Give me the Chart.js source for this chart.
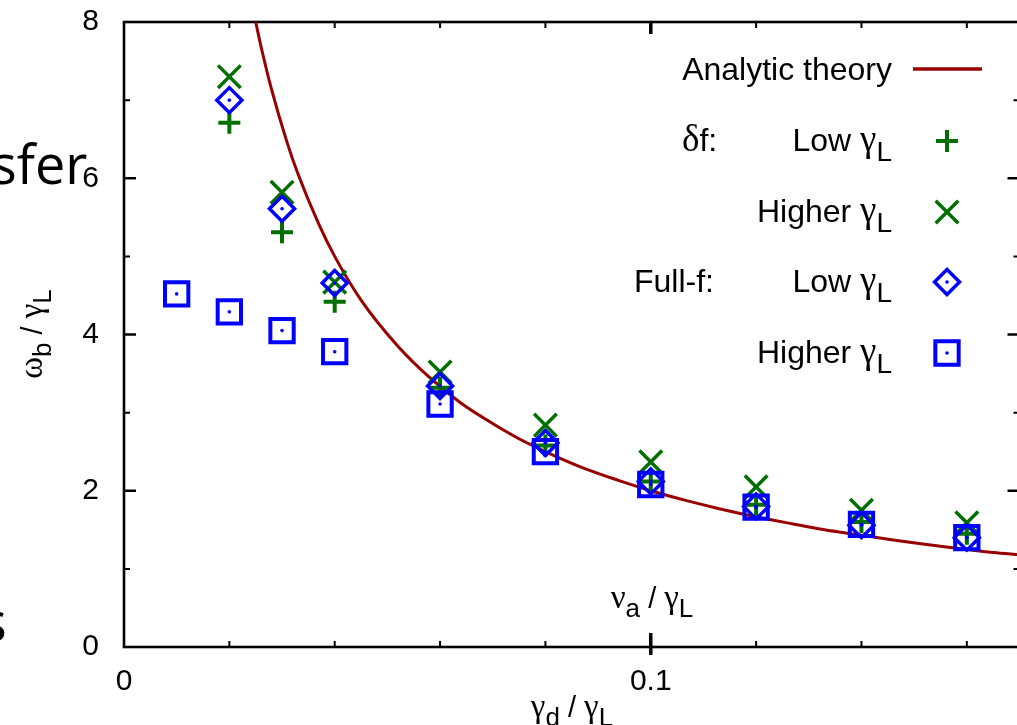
<!DOCTYPE html>
<html>
<head>
<meta charset="utf-8">
<script src="https://cdn.jsdelivr.net/npm/chart.js@4.4.1/dist/chart.umd.min.js"></script>
<style>
  html, body { margin: 0; padding: 0; background: #fff; overflow: hidden; }
  #wrap { position: relative; width: 1017px; height: 725px; overflow: hidden; }
  #plot { position: absolute; left: 0; top: 0; }
  .slide { position: absolute; font-family: 'Open Sans', sans-serif; font-size: 54px; color: #000; line-height: 1; }
</style>
</head>
<body>
<div id="wrap">
  <canvas id="plot" width="1040" height="725" style="width:1040px;height:725px"></canvas>
  <div class="slide" style="left:-9px; top:136px;">sfer</div>
  <div class="slide" style="left:-19px; top:593px;">s</div>
</div>
<script>
// analytic theory curve
const theoryX = [0.025, 0.026, 0.028, 0.031, 0.033, 0.037, 0.040, 0.045, 0.052, 0.058, 0.064, 0.071, 0.076, 0.081,
                 0.088, 0.094, 0.100, 0.107, 0.113, 0.119, 0.127, 0.133, 0.139, 0.146, 0.152, 0.158, 0.165, 0.170];
const theoryY = [8.00, 7.69, 7.14, 6.45, 6.06, 5.41, 5.00, 4.44, 3.85, 3.45, 3.12, 2.82, 2.63, 2.47,
                 2.27, 2.13, 2.00, 1.87, 1.77, 1.68, 1.575, 1.50, 1.44, 1.37, 1.315, 1.265, 1.21, 1.18];

// simulations
const xSim = [0.02, 0.03, 0.04, 0.06, 0.08, 0.10, 0.12, 0.14, 0.16];
const deltaLow = [6.71, 5.31, 4.42, 3.32, 2.58, 2.12, 1.82, 1.60, 1.45];
const deltaHigh = [7.30, 5.82, 4.67, 3.52, 2.84, 2.37, 2.05, 1.75, 1.59];
const fullLow = [7.00, 5.61, 4.66, 3.34, 2.61, 2.12, 1.80, 1.56, 1.40];
const xFullHigh = [0.01, 0.02, 0.03, 0.04, 0.06, 0.08, 0.10, 0.12, 0.14, 0.16];
const fullHigh = [4.52, 4.29, 4.05, 3.78, 3.11, 2.50, 2.08, 1.79, 1.57, 1.40];

// axis ticks
const xMajorTicks = [0.1];
const xMinorTicks = [0.02, 0.04, 0.06, 0.08, 0.12, 0.14, 0.16];
const yMajorTicks = [2, 4, 6];
const yMinorTicks = [1, 3, 5, 7];

const RED = '#990000';
const GREEN = '#006f00';
const BLUE = '#0000ff';
const FONT = "'Liberation Sans', Arial, sans-serif";
const GREEK = "'Liberation Serif', serif";

function pts(xs, ys) {
    return xs.map((v, i) => ({ x: v, y: ys[i] }));
}

// text with subscripts: parts = [[text, isSub, isGreek], ...]
function drawRich(ctx, parts, x, y, align, size) {
    const subSize = Math.round(size * 0.88);
    const fontOf = p => (p[1] ? subSize : (p[2] ? Math.round(size * 1.15) : size)) + 'px ' + (p[2] ? GREEK : FONT);
    let w = 0;
    const widths = parts.map(p => {
        ctx.font = fontOf(p);
        const m = ctx.measureText(p[0]).width;
        w += m;
        return m;
    });
    let cx = align === 'right' ? x - w : (align === 'center' ? x - w / 2 : x);
    ctx.textAlign = 'left';
    ctx.textBaseline = 'alphabetic';
    parts.forEach((p, i) => {
        ctx.font = fontOf(p);
        ctx.fillText(p[0], cx, y + (p[1] ? size * 0.3 : 0));
        cx += widths[i];
    });
}

const framePlugin = {
    id: 'frame',
    beforeDatasetsDraw(chart) {
        const { ctx, chartArea: a, scales: { x, y } } = chart;
        ctx.save();
        ctx.strokeStyle = '#000';
        ctx.lineWidth = 2;
        ctx.beginPath();
        xMinorTicks.forEach(v => {
            const px = x.getPixelForValue(v);
            ctx.moveTo(px, a.bottom); ctx.lineTo(px, a.bottom - 6);
            ctx.moveTo(px, a.top); ctx.lineTo(px, a.top + 6);
        });
        yMinorTicks.forEach(v => {
            const py = y.getPixelForValue(v);
            ctx.moveTo(a.left, py); ctx.lineTo(a.left + 6, py);
            ctx.moveTo(a.right, py); ctx.lineTo(a.right - 6, py);
        });
        ctx.stroke();
        ctx.lineWidth = 2.5;
        ctx.beginPath();
        yMajorTicks.forEach(v => {
            const py = y.getPixelForValue(v);
            ctx.moveTo(a.left, py); ctx.lineTo(a.left + 12, py);
            ctx.moveTo(a.right, py); ctx.lineTo(a.right - 12, py);
        });
        ctx.stroke();
        ctx.lineWidth = 3.5;
        ctx.beginPath();
        xMajorTicks.forEach(v => {
            const px = x.getPixelForValue(v);
            ctx.moveTo(px, a.bottom + 8); ctx.lineTo(px, a.bottom - 14);
            ctx.moveTo(px, a.top); ctx.lineTo(px, a.top + 12);
        });
        ctx.stroke();
        ctx.lineWidth = 2.6;
        ctx.strokeRect(a.left, a.top, a.right - a.left, a.bottom - a.top);
        ctx.restore();
    },
    afterDatasetsDraw(chart) {
        const ctx = chart.ctx;
        ctx.save();
        ctx.fillStyle = BLUE;
        [3, 4].forEach(i => {
            chart.getDatasetMeta(i).data.forEach(el => {
                ctx.beginPath();
                ctx.arc(el.x, el.y, 1.8, 0, Math.PI * 2);
                ctx.fill();
            });
        });
        ctx.restore();
    },
    afterDraw(chart) {
        const ctx = chart.ctx;
        const ds = chart.data.datasets;
        ctx.save();
        ctx.fillStyle = '#000';

        // axis titles
        drawRich(ctx, [['γ', 0, 1], ['d', 1], [' / '], ['γ', 0, 1], ['L', 1]], 572, 717, 'center', 29);
        drawRich(ctx, [['ν', 0, 1], ['a', 1], [' / '], ['γ', 0, 1], ['L', 1]], 652, 608, 'center', 29);
        ctx.save();
        ctx.translate(42, 334);
        ctx.rotate(-Math.PI / 2);
        drawRich(ctx, [['ω', 0, 1], ['b', 1], [' / '], ['γ', 0, 1], ['L', 1]], 0, 0, 'center', 29);
        ctx.restore();

        // key
        const tx = 892, mx = 947;
        const rows = [69, 141, 212, 282, 353];
        ctx.fillStyle = '#000';
        drawRich(ctx, [['Analytic theory']], tx, rows[0] + 11, 'right', 32);
        ctx.strokeStyle = RED;
        ctx.lineWidth = 3.5;
        ctx.beginPath();
        ctx.moveTo(913, rows[0]); ctx.lineTo(982, rows[0]);
        ctx.stroke();

        const labels = [
            [['Low '], ['γ', 0, 1], ['L', 1]],
            [['Higher '], ['γ', 0, 1], ['L', 1]],
            [['Low '], ['γ', 0, 1], ['L', 1]],
            [['Higher '], ['γ', 0, 1], ['L', 1]]
        ];
        for (let k = 0; k < 4; k++) {
            const d = ds[k + 1];
            ctx.fillStyle = '#000';
            drawRich(ctx, labels[k], tx, rows[k + 1] + 10, 'right', 32);
            ctx.strokeStyle = d.pointBorderColor;
            ctx.fillStyle = 'rgba(0,0,0,0)';
            ctx.lineWidth = d.pointBorderWidth;
            Chart.helpers.drawPoint(ctx, { pointStyle: d.pointStyle, radius: d.pointRadius, rotation: 0, borderWidth: d.pointBorderWidth }, mx, rows[k + 1]);
            if (k >= 2) {
                ctx.fillStyle = BLUE;
                ctx.beginPath();
                ctx.arc(mx, rows[k + 1], 1.8, 0, Math.PI * 2);
                ctx.fill();
            }
        }
        ctx.fillStyle = '#000';
        drawRich(ctx, [['δ', 0, 1], ['f:']], 682, rows[1] + 10, 'left', 32);
        drawRich(ctx, [['Full-f:']], 634, rows[3] + 10, 'left', 32);
        ctx.restore();
    }
};

new Chart(document.getElementById('plot'), {
    type: 'scatter',
    data: {
        datasets: [{
            type: 'line',
            label: 'Analytic theory',
            data: pts(theoryX, theoryY),
            borderColor: RED,
            borderWidth: 3,
            pointRadius: 0,
            fill: false,
            cubicInterpolationMode: 'monotone',
            order: 5
        }, {
            label: 'δf: Low γL',
            data: pts(xSim, deltaLow),
            pointStyle: 'cross',
            pointRadius: 11,
            pointBorderWidth: 4,
            pointBorderColor: GREEN,
            pointBackgroundColor: 'rgba(0,0,0,0)',
            order: 4
        }, {
            label: 'δf: Higher γL',
            data: pts(xSim, deltaHigh),
            pointStyle: 'crossRot',
            pointRadius: 16,
            pointBorderWidth: 3.5,
            pointBorderColor: GREEN,
            pointBackgroundColor: 'rgba(0,0,0,0)',
            order: 3
        }, {
            label: 'Full-f: Low γL',
            data: pts(xSim, fullLow),
            pointStyle: 'rectRot',
            pointRadius: 12.5,
            pointBorderWidth: 3.5,
            pointBorderColor: BLUE,
            pointBackgroundColor: 'rgba(0,0,0,0)',
            order: 2
        }, {
            label: 'Full-f: Higher γL',
            data: pts(xFullHigh, fullHigh),
            pointStyle: 'rect',
            pointRadius: 16.5,
            pointBorderWidth: 4,
            pointBorderColor: BLUE,
            pointBackgroundColor: 'rgba(0,0,0,0)',
            order: 1
        }]
    },
    options: {
        responsive: false,
        animation: false,
        events: [],
        layout: { padding: { top: 22, right: 18.4, left: 0, bottom: 0 } },
        plugins: { legend: { display: false }, tooltip: { enabled: false } },
        scales: {
            x: {
                type: 'linear',
                min: 0,
                max: 0.17,
                afterFit: s => { s.height = 78; s.paddingLeft = 0; s.paddingRight = 0; },
                grid: { display: false },
                border: { display: false },
                ticks: {
                    stepSize: 0.1,
                    includeBounds: false,
                    padding: 9,
                    color: '#000',
                    font: { family: FONT, size: 30 },
                    callback: v => v === 0 ? '0' : String(+v.toFixed(2))
                }
            },
            y: {
                min: 0,
                max: 8,
                afterFit: s => { s.width = 124; s.paddingTop = 0; s.paddingBottom = 0; },
                grid: { display: false },
                border: { display: false },
                ticks: {
                    stepSize: 2,
                    padding: 17,
                    color: '#000',
                    font: { family: FONT, size: 30 }
                }
            }
        }
    },
    plugins: [framePlugin]
});
</script>
</body>
</html>
